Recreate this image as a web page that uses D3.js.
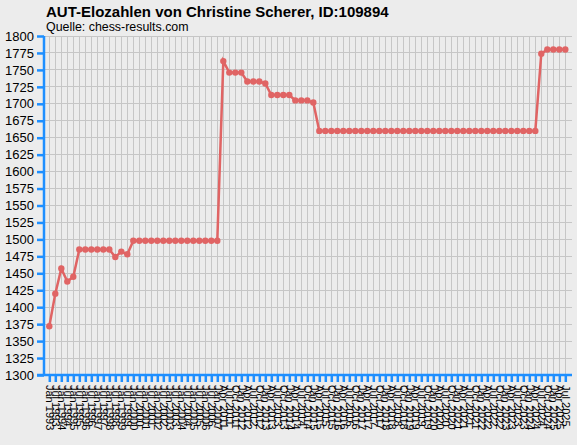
<!DOCTYPE html>
<html>
<head>
<meta charset="utf-8">
<script src="https://cdn.jsdelivr.net/npm/d3@7"></script>
<style>
  html, body { margin: 0; padding: 0; background: #ececec; }
  svg { display: block; font-family: 'Liberation Sans', Arial, sans-serif; }
</style>
</head>
<body>
<div id="chart"></div>
<script>
const periods = [
  'Jan 1993', 'Jul 1993', 'Jan 1994', 'Jul 1994', 'Jan 1995', 'Jul 1995', 'Jan 1996', 'Jul 1996',
  'Jan 1997', 'Jul 1997', 'Jan 1998', 'Jul 1998', 'Jan 1999', 'Jul 1999', 'Jan 2000', 'Jul 2000',
  'Jan 2001', 'Jul 2001', 'Jan 2002', 'Jul 2002', 'Jan 2003', 'Jul 2003', 'Jan 2004', 'Jul 2004',
  'Jan 2005', 'Jul 2005', 'Jan 2006', 'Jul 2006', 'Jan 2007',
  'Apr 2011', 'Jul 2011', 'Oct 2011',
  'Jan 2012', 'Apr 2012', 'Jul 2012', 'Oct 2012', 'Jan 2013', 'Apr 2013', 'Jul 2013', 'Oct 2013',
  'Jan 2014', 'Apr 2014', 'Jul 2014', 'Oct 2014', 'Jan 2015', 'Apr 2015', 'Jul 2015', 'Oct 2015',
  'Jan 2016', 'Apr 2016', 'Jul 2016', 'Oct 2016', 'Jan 2017', 'Apr 2017', 'Jul 2017', 'Oct 2017',
  'Jan 2018', 'Apr 2018', 'Jul 2018', 'Oct 2018', 'Jan 2019', 'Apr 2019', 'Jul 2019', 'Oct 2019',
  'Jan 2020', 'Apr 2020', 'Jul 2020', 'Oct 2020', 'Jan 2021', 'Apr 2021', 'Jul 2021', 'Oct 2021',
  'Jan 2022', 'Apr 2022', 'Jul 2022', 'Oct 2022', 'Jan 2023', 'Apr 2023', 'Jul 2023', 'Oct 2023',
  'Jan 2024', 'Apr 2024', 'Jul 2024', 'Oct 2024', 'Jan 2025', 'Apr 2025', 'Jul 2025',
];

const elo = [
  1372, 1420, 1457, 1438, 1445, 1485, 1485, 1485, 1485, 1485, 1485, 1474, 1482, 1478,
  1498, 1498, 1498, 1498, 1498, 1498, 1498, 1498, 1498, 1498, 1498, 1498, 1498, 1498, 1498,
  1763, 1746, 1746, 1746, 1733, 1733, 1733, 1730, 1713, 1713, 1713, 1713, 1705, 1705, 1705, 1702,
  1660, 1660, 1660, 1660, 1660, 1660, 1660, 1660, 1660, 1660, 1660, 1660, 1660, 1660, 1660, 1660,
  1660, 1660, 1660, 1660, 1660, 1660, 1660, 1660, 1660, 1660, 1660, 1660, 1660, 1660, 1660, 1660,
  1660, 1660, 1660, 1660, 1660,
  1774, 1780, 1780, 1780, 1780,
];

const yTicks = [
  1300, 1325, 1350, 1375, 1400, 1425, 1450, 1475, 1500, 1525, 1550,
  1575, 1600, 1625, 1650, 1675, 1700, 1725, 1750, 1775, 1800,
];

const title = 'AUT-Elozahlen von Christine Scherer, ID:109894';
const subtitle = 'Quelle: chess-results.com';

const width = 577;
const height = 445;
const plot = { left: 44, right: 572, top: 36, bottom: 375 };
const axisColor = '#1e8fff';
const lineColor = '#e06464';

const data = periods.map((p, i) => ({ period: p, value: elo[i] }));

const xScale = d3.scalePoint()
  .domain(periods)
  .range([49.3, 565.3]);
const yScale = d3.scaleLinear()
  .domain([yTicks[0], yTicks[yTicks.length - 1]])
  .range([plot.bottom, plot.top]);

const svg = d3.select('#chart')
  .append('svg')
  .attr('width', width)
  .attr('height', height);

svg.append('rect')
  .attr('width', width)
  .attr('height', height)
  .attr('fill', '#ececec');

// titles
svg.append('text')
  .attr('x', 46)
  .attr('y', 16.5)
  .attr('font-size', '15px')
  .attr('font-weight', 'bold')
  .attr('fill', '#000')
  .text(title);
svg.append('text')
  .attr('x', 46)
  .attr('y', 31)
  .attr('font-size', '12.4px')
  .attr('fill', '#000')
  .text(subtitle);

// grid
const grid = svg.append('g')
  .attr('stroke', '#c6c6c6')
  .attr('stroke-width', 1)
  .attr('shape-rendering', 'crispEdges');
grid.selectAll('.vgrid')
  .data(periods)
  .enter()
  .append('line')
  .attr('x1', (d) => xScale(d))
  .attr('x2', (d) => xScale(d))
  .attr('y1', plot.top)
  .attr('y2', plot.bottom);
grid.selectAll('.hgrid')
  .data(yTicks)
  .enter()
  .append('line')
  .attr('x1', plot.left)
  .attr('x2', plot.right)
  .attr('y1', (d) => yScale(d))
  .attr('y2', (d) => yScale(d));

// axes
const yAxis = d3.axisLeft(yScale)
  .tickValues(yTicks)
  .tickSize(7)
  .tickPadding(3)
  .tickFormat(d3.format('d'));
const gy = svg.append('g')
  .attr('transform', `translate(${plot.left},0)`)
  .call(yAxis);
gy.select('.domain').remove();
gy.selectAll('.tick line')
  .attr('stroke', axisColor)
  .attr('stroke-width', 2.5);
gy.selectAll('.tick text')
  .attr('font-size', '13px')
  .attr('font-family', "'Liberation Sans', Arial, sans-serif")
  .attr('fill', '#000');

const xAxis = d3.axisBottom(xScale)
  .tickSize(7)
  .tickPadding(3);
const gx = svg.append('g')
  .attr('transform', `translate(0,${plot.bottom})`)
  .call(xAxis);
gx.select('.domain').remove();
gx.selectAll('.tick line')
  .attr('stroke', axisColor)
  .attr('stroke-width', 2.5);
gx.selectAll('.tick text')
  .attr('font-size', '11px')
  .attr('font-family', "'Liberation Sans', Arial, sans-serif")
  .attr('fill', '#000')
  .attr('text-anchor', 'start')
  .attr('transform', 'rotate(90)')
  .attr('x', 10)
  .attr('y', 0)
  .attr('dy', '0.35em');

svg.append('line')
  .attr('x1', plot.left)
  .attr('x2', plot.left)
  .attr('y1', plot.top)
  .attr('y2', plot.bottom + 1)
  .attr('stroke', axisColor)
  .attr('stroke-width', 2.5);
svg.append('line')
  .attr('x1', plot.left - 7)
  .attr('x2', plot.right)
  .attr('y1', plot.bottom)
  .attr('y2', plot.bottom)
  .attr('stroke', axisColor)
  .attr('stroke-width', 2.5);

// series
const valueline = d3.line()
  .x((d) => xScale(d.period))
  .y((d) => yScale(d.value));
svg.append('path')
  .attr('fill', 'none')
  .attr('stroke', lineColor)
  .attr('stroke-width', 2.5)
  .attr('d', valueline(data));
svg.selectAll('.marker')
  .data(data)
  .enter()
  .append('circle')
  .attr('r', 3.2)
  .attr('cx', (d) => xScale(d.period))
  .attr('cy', (d) => yScale(d.value))
  .attr('fill', lineColor);
</script>
</body>
</html>
